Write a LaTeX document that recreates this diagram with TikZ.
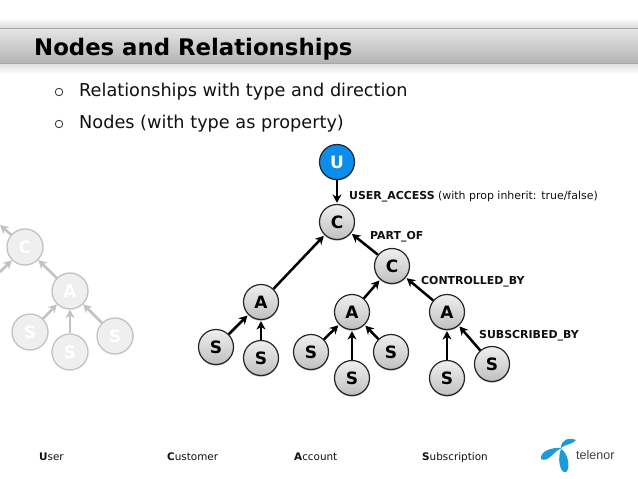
\documentclass[tikz,border=0pt]{standalone}
\usepackage{fontspec}
\setmainfont{DejaVu Sans}
\newfontfamily\logofont{Liberation Sans}
\usetikzlibrary{arrows.meta,shadows,fadings}
\definecolor{barTop}{HTML}{E6E6E6}
\definecolor{barBot}{HTML}{B4B4B4}
\definecolor{barLine}{HTML}{A6A6A6}
\definecolor{nodeLight}{HTML}{EFEFEF}
\definecolor{nodeDark}{HTML}{C0C0C0}
\definecolor{ghostFill}{HTML}{EFEFEF}
\definecolor{ghostLine}{HTML}{C2C2C2}
\definecolor{userBlue}{HTML}{0A8DEB}
\definecolor{logoBlue}{HTML}{1C9BD8}
\definecolor{txt}{HTML}{111111}
\tikzset{
  x=1pt,y=-1pt,
  graphnode/.style={circle,minimum size=35pt,inner sep=0pt,draw=black!85,line width=1.2pt,
     top color=nodeLight,bottom color=nodeDark,text=black,
     drop shadow={shadow xshift=0pt,shadow yshift=-1.2pt,opacity=.3,fill=black},
     font=\fontsize{17}{17}\selectfont\bfseries},
  usernode/.style={graphnode,top color=userBlue,bottom color=userBlue,text=white},
  ghostnode/.style={circle,minimum size=36pt,inner sep=0pt,draw=ghostLine,line width=1.3pt,
     fill=ghostFill,text=white,font=\fontsize{17}{17}\selectfont\bfseries},
  rel/.style={draw=black,line width=2.5pt,-{Stealth[length=8.5pt,width=9pt]},shorten >=1pt},
  ghostrel/.style={draw=ghostLine,line width=2.5pt,-{Stealth[length=8.5pt,width=9pt]}},
  lbl/.style={anchor=base west,inner sep=0pt,text=txt,font=\fontsize{10.95}{12}\selectfont},
  bullet/.style={anchor=base west,inner sep=0pt,text=txt,font=\fontsize{17.7}{20}\selectfont},
  legend/.style={anchor=base west,inner sep=0pt,text=txt,font=\fontsize{10.4}{12}\selectfont},
  ring/.style={circle,draw=black!80,line width=.8pt,minimum size=7.5pt,inner sep=0pt},
  petal/.style={fill=logoBlue,draw=none},
}
\begin{document}
\begin{tikzpicture}
\useasboundingbox (0,0) rectangle (638,479);
\fill[white] (0,0) rectangle (638,479);
% title bar
\shade[top color=white,bottom color=black!14] (0,18) rectangle (638,28);
\shade[top color=black!14,bottom color=white] (0,63) rectangle (638,74);
\shade[top color=barTop,bottom color=barBot] (0,28) rectangle (638,63);
\draw[barLine,line width=1pt] (0,28) -- (638,28) (0,63) -- (638,63);
\node[anchor=base west,inner sep=0pt,text=black,font=\fontsize{22.8}{24}\selectfont\bfseries] (title) at (34,55.5) {Nodes and Relationships};
% bullets
\node[ring] (b1) at (59,92) {};
\node[ring] (b2) at (59,124) {};
\node[bullet] (t1) at (79,96) {Relationships with type and direction};
\node[bullet] (t2) at (79,128) {Nodes (with type as property)};
% ghost graph
\coordinate (gout) at (0,225);
\coordinate (gin) at (0,272);
\node[ghostnode] (gC) at (25,247) {C};
\node[ghostnode] (gA) at (70,291) {A};
\node[ghostnode] (gS1) at (30,332) {S};
\node[ghostnode] (gS2) at (70,352) {S};
\node[ghostnode] (gS3) at (115,336) {S};
\draw[ghostrel] (gC) -- (gout);
\draw[ghostrel] (gin) -- (gC);
\draw[ghostrel] (gA) -- (gC);
\draw[ghostrel] (gS1) -- (gA);
\draw[ghostrel] (gS2) -- (gA);
\draw[ghostrel] (gS3) -- (gA);
% main graph
\node[usernode] (U) at (337,162) {U};
\node[graphnode] (C1) at (337,222) {C};
\node[graphnode] (C2) at (392,266) {C};
\node[graphnode] (A1) at (261,302) {A};
\node[graphnode] (A2) at (352,312) {A};
\node[graphnode] (A3) at (447,312) {A};
\node[graphnode] (S1) at (216,347) {S};
\node[graphnode] (S2) at (261,358) {S};
\node[graphnode] (S3) at (311,352) {S};
\node[graphnode] (S4) at (391,352) {S};
\node[graphnode] (S5) at (352,378) {S};
\node[graphnode] (S6) at (447,378) {S};
\node[graphnode] (S7) at (492,364) {S};
\draw[rel] (U) -- (C1);
\draw[rel] (C2) -- (C1);
\draw[rel] (A1) -- (C1);
\draw[rel] (A2) -- (C2);
\draw[rel] (A3) -- (C2);
\draw[rel] (S1) -- (A1);
\draw[rel] (S2) -- (A1);
\draw[rel] (S3) -- (A2);
\draw[rel] (S4) -- (A2);
\draw[rel] (S5) -- (A2);
\draw[rel] (S6) -- (A3);
\draw[rel] (S7) -- (A3);
% labels
\node[lbl] (l1) at (349,199) {\textbf{USER\_ACCESS} (with prop inherit: true/false)};
\node[lbl] (l2) at (370,239) {\textbf{PART\_OF}};
\node[lbl] (l3) at (421,284) {\textbf{CONTROLLED\_BY}};
\node[lbl] (l4) at (479,338) {\textbf{SUBSCRIBED\_BY}};
% legend
\node[legend] (k1) at (39,460) {\textbf{U}ser};
\node[legend] (k2) at (167,460) {\textbf{C}ustomer};
\node[legend] (k3) at (294,460) {\textbf{A}ccount};
\node[legend] (k4) at (422,460) {\textbf{S}ubscription};
% logo
\fill[petal] (541,459) .. controls (540,451) and (552,447) .. (562,448) .. controls (553,451) and (549,463) .. (541,459) -- cycle;
\fill[petal] (561,448) .. controls (561,440) and (568,437) .. (576,440) .. controls (572,445) and (565,444) .. (561,448) -- cycle;
\fill[petal] (561,449) .. controls (568,453) and (571,468) .. (566,472) .. controls (560,474) and (557,458) .. (561,449) -- cycle;
\node[anchor=base west,inner sep=0pt,text=black!75,font=\logofont\fontsize{12.5}{14}\selectfont] (logo) at (576,459) {telenor};
\end{tikzpicture}
\end{document}
